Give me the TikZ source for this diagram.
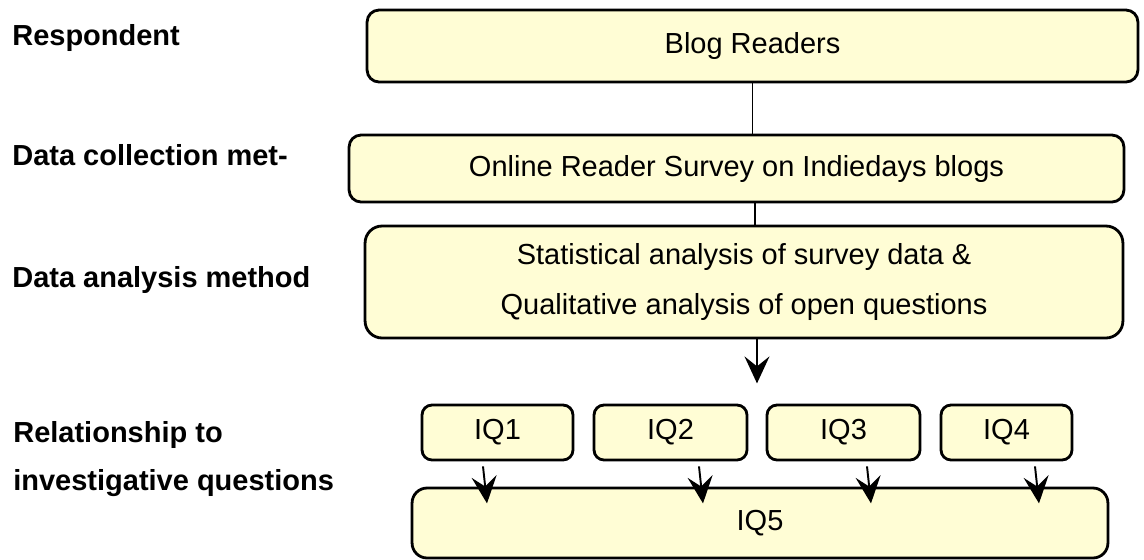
\documentclass[tikz,border=0pt]{standalone}
\usepackage{fontspec}
\setmainfont{Liberation Sans}
\usetikzlibrary{arrows.meta}

\definecolor{boxfill}{RGB}{255,253,213}
\newcommand{\diagfont}{\fontsize{16.5}{28}\selectfont}

\tikzset{
  box/.style={draw, line width=1.6pt, fill=boxfill, rounded corners=0.24cm,
              inner sep=0pt, align=center},
  iqbox/.style={box, rounded corners=0.2cm, minimum height=1.1cm},
  level/.style={font=\diagfont\bfseries, anchor=base west, inner sep=0pt},
  link/.style={line width=1.1pt}
}

\begin{document}
\begin{tikzpicture}[x=0.02cm, y=-0.02cm, font=\diagfont,
    >={Stealth[length=0.54cm, width=0.5cm, inset=0.2cm]}]
    \useasboundingbox (0,0) rectangle (1144,559);

    % row labels
    \node[level] (respondent) at (12,45)  {Respondent};
    \node[level] (collection) at (12,165) {Data collection met-};
    \node[level] (analysislbl) at (12,287) {Data analysis method};
    \node[level] (relation1) at (13,442) {Relationship to};
    \node[level] (relation2) at (13,490) {investigative questions};

    % main column
    \node[box, minimum width=15.42cm, minimum height=1.44cm] (readers) at (752.5,46) {Blog Readers};
    \node[box, minimum width=15.5cm, minimum height=1.34cm] (survey) at (736.5,168.5) {Online Reader Survey on Indiedays blogs};
    \node[box, rounded corners=0.34cm, minimum width=15.16cm, minimum height=2.24cm] (analysis) at (744,282)
        {Statistical analysis of survey data \&\\Qualitative analysis of open questions};

    % investigative questions
    \node[iqbox, minimum width=3.02cm] (iq1) at (497.5,432.5) {IQ1};
    \node[iqbox, minimum width=3.06cm] (iq2) at (670.5,432.5) {IQ2};
    \node[iqbox, minimum width=3.06cm] (iq3) at (843.5,432.5) {IQ3};
    \node[iqbox, minimum width=2.62cm] (iq4) at (1006.5,432.5) {IQ4};
    \node[box, rounded corners=0.3cm, minimum width=13.92cm, minimum height=1.4cm] (iq5) at (760,523) {IQ5};

    \draw[link] (readers.south) -- (readers.south |- survey.north);
    \draw[link] ([xshift=0.37cm]survey.south) -- ([xshift=0.37cm]survey.south |- analysis.north);
    \draw[link,->] ([xshift=0.26cm]analysis.south) -- ++(0,44);

    \foreach \n/\dx in {1/-14.5, 2/28.5, 3/23.5, 4/28.5}
        \draw[link,->] ([xshift=\dx*0.02cm]iq\n.south) ++(0,5) -- ++(4,37);
\end{tikzpicture}
\end{document}
